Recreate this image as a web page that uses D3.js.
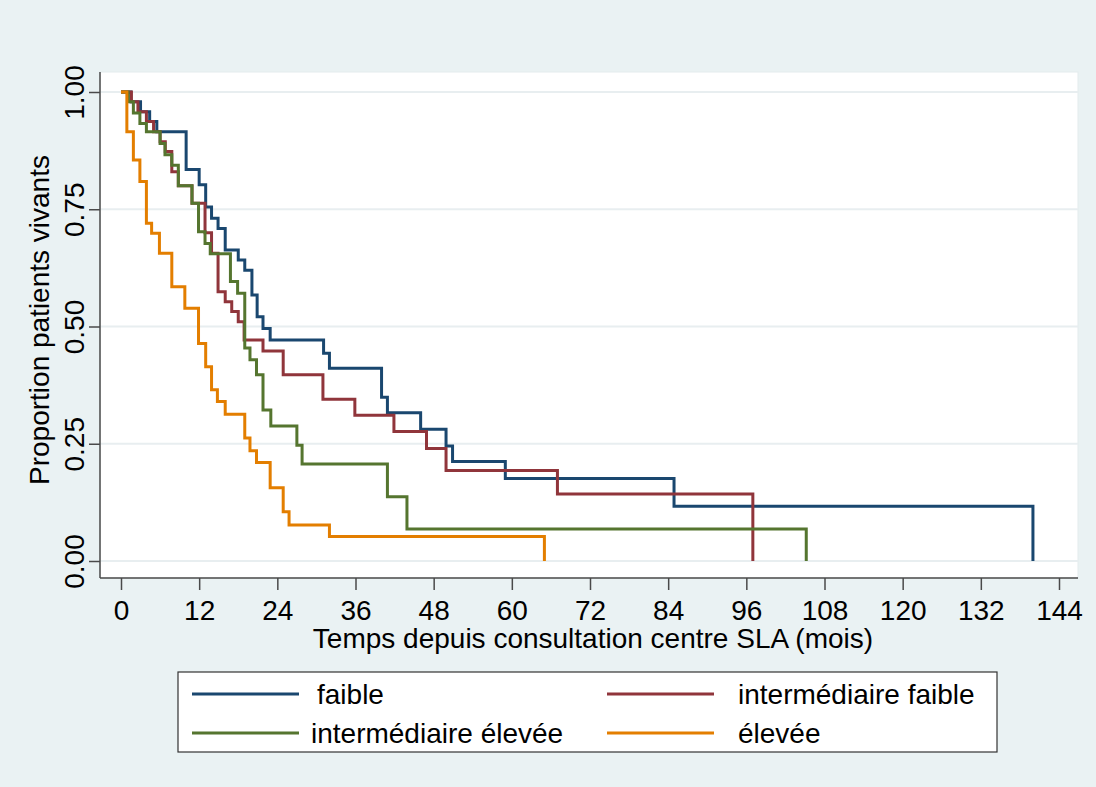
<!DOCTYPE html>
<html>
<head>
<meta charset="utf-8">
<script src="https://cdn.jsdelivr.net/npm/d3@7"></script>
<style>
  body { margin: 0; background: #eaf2f3; }
  text { font-family: "Liberation Sans", Arial, sans-serif; fill: #000; }
</style>
</head>
<body>
<svg id="chart" width="1096" height="787"></svg>
<script>
// Kaplan-Meier curves (time in months, proportion alive)
var groups = ["faible", "intermédiaire faible", "intermédiaire élevée", "élevée"];
var colors = ["#1a476f", "#90353b", "#55752f", "#e37e00"];

var faibleT = [0, 1.5, 3, 4.4, 5.5, 10, 12, 13, 13.9, 14.9, 16, 18, 19, 20.1, 20.9, 21.8, 22.9, 31.1, 32, 40, 40.9, 46, 49.9, 50.9, 59, 84.9, 140];
var faibleS = [1, 0.979, 0.958, 0.937, 0.915, 0.835, 0.802, 0.755, 0.731, 0.709, 0.663, 0.642, 0.62, 0.567, 0.521, 0.496, 0.471, 0.443, 0.411, 0.349, 0.316, 0.281, 0.245, 0.212, 0.176, 0.117, 0];

var intFaibleT = [0, 1.6, 2.6, 3.9, 5, 6, 6.8, 7.8, 8.8, 10.9, 12.9, 13.9, 14.9, 16, 17, 18, 18.9, 21.8, 24.9, 31, 35.9, 41.9, 46.9, 49.9, 67, 97];
var intFaibleS = [1, 0.979, 0.958, 0.937, 0.915, 0.894, 0.873, 0.83, 0.80, 0.763, 0.70, 0.656, 0.574, 0.553, 0.532, 0.51, 0.471, 0.448, 0.397, 0.345, 0.311, 0.276, 0.24, 0.193, 0.143, 0];

var intEleveeT = [0, 1.1, 1.9, 2.9, 3.9, 6, 6.75, 7.8, 8.8, 10.9, 11.9, 12.9, 13.7, 16.8, 17.9, 19, 19.8, 20.8, 21.8, 23, 27, 27.8, 40.9, 43.9, 105.2];
var intEleveeS = [1, 0.979, 0.955, 0.933, 0.915, 0.89, 0.866, 0.844, 0.80, 0.763, 0.702, 0.677, 0.655, 0.596, 0.571, 0.454, 0.429, 0.397, 0.322, 0.288, 0.247, 0.207, 0.137, 0.068, 0];

var eleveeT = [0, 0.9, 1.9, 2.9, 3.9, 4.7, 5.9, 7.8, 9.8, 11.9, 13, 13.9, 14.8, 16, 19, 19.8, 20.8, 22.9, 24.9, 25.8, 32, 65];
var eleveeS = [1, 0.915, 0.855, 0.809, 0.72, 0.699, 0.656, 0.585, 0.539, 0.464, 0.414, 0.365, 0.34, 0.313, 0.262, 0.235, 0.21, 0.156, 0.105, 0.077, 0.052, 0];

var xTicks = d3.range(0, 145, 12);
var yTicks = [0, 0.25, 0.5, 0.75, 1];

var series = [
  {name: groups[0], color: colors[0], t: faibleT, s: faibleS},
  {name: groups[1], color: colors[1], t: intFaibleT, s: intFaibleS},
  {name: groups[2], color: colors[2], t: intEleveeT, s: intEleveeS},
  {name: groups[3], color: colors[3], t: eleveeT, s: eleveeS}
];

// plot region
var margin = {top: 72, right: 18, bottom: 209, left: 100},
    width = 1096 - margin.left - margin.right,
    height = 787 - margin.top - margin.bottom;

var svg = d3.select("#chart");
svg.append("rect").attr("width", 1096).attr("height", 787).attr("fill", "#eaf2f3");

var g = svg.append("g")
    .attr("transform", "translate(" + margin.left + "," + margin.top + ")");

g.append("rect")
    .attr("width", width).attr("height", height)
    .attr("fill", "#fff")
    .attr("stroke", "#e3ebed");

var x = d3.scaleLinear().domain([0, 144]).range([21, 959]);
var y = d3.scaleLinear().domain([0, 1]).range([489, 20]);

// grid
g.selectAll(".grid")
    .data(yTicks)
    .enter().append("line")
    .attr("x1", 0).attr("x2", width)
    .attr("y1", d => y(d)).attr("y2", d => y(d))
    .attr("stroke", "#e8eef0")
    .attr("stroke-width", 2);

// axes
var xAxis = g.append("g")
    .attr("transform", "translate(0," + height + ")")
    .call(d3.axisBottom(x).tickValues(xTicks).tickSize(12).tickPadding(10).tickSizeOuter(0));

var yAxis = g.append("g")
    .call(d3.axisLeft(y).tickValues(yTicks).tickFormat(d3.format(".2f")).tickSize(11).tickSizeOuter(0));

[xAxis, yAxis].forEach(function(a) {
  a.select(".domain").attr("stroke", "#4a4a4a").attr("stroke-width", 1.5);
  a.selectAll(".tick line").attr("stroke", "#4a4a4a").attr("stroke-width", 1.5);
  a.selectAll(".tick text").style("font-size", "28px").attr("fill", "#000");
});
// stretch the axis lines over the whole plot region
xAxis.select(".domain").attr("d", "M0,0H" + width);
yAxis.select(".domain").attr("d", "M0,0V" + height);

yAxis.selectAll(".tick text")
    .attr("x", null).attr("dy", null)
    .attr("text-anchor", "middle")
    .attr("transform", "translate(-16,0) rotate(-90)");

// curves
var line = d3.line()
    .x(d => x(d[0]))
    .y(d => y(d[1]))
    .curve(d3.curveStepAfter);

g.selectAll(".km")
    .data(series)
    .enter().append("path")
    .attr("fill", "none")
    .attr("stroke", d => d.color)
    .attr("stroke-width", 3)
    .attr("d", d => line(d.t.map((t, i) => [t, d.s[i]])));

// axis titles
g.append("text")
    .attr("x", width / 2 + 4)
    .attr("y", height + 70)
    .attr("text-anchor", "middle")
    .style("font-size", "28px")
    .text("Temps depuis consultation centre SLA (mois)");

svg.append("text")
    .attr("transform", "translate(49,320) rotate(-90)")
    .attr("text-anchor", "middle")
    .style("font-size", "28px")
    .text("Proportion patients vivants");

// legend
var legend = svg.append("g");
legend.append("rect")
    .attr("x", 178).attr("y", 672)
    .attr("width", 819).attr("height", 80)
    .attr("fill", "#fff")
    .attr("stroke", "#333")
    .attr("stroke-width", 1.2);

var legX = [192, 607], legTextX = [317, 738], legY = [694, 733];
series.forEach(function(d, i) {
  var col = i % 2, row = Math.floor(i / 2);
  legend.append("line")
      .attr("x1", legX[col]).attr("x2", legX[col] + 107)
      .attr("y1", legY[row]).attr("y2", legY[row])
      .attr("stroke", d.color).attr("stroke-width", 3);
  legend.append("text")
      .attr("x", legTextX[col] - (i === 2 ? 6 : 0))
      .attr("y", legY[row] + 10)
      .style("font-size", "28px")
      .text(d.name);
});
</script>
</body>
</html>
